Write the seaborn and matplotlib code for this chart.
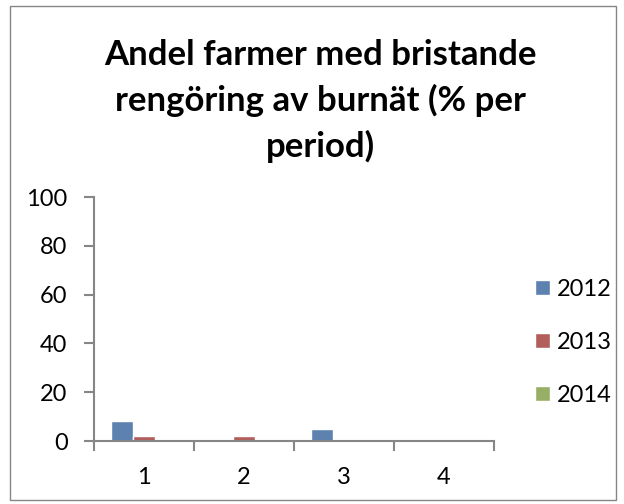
import pandas as pd
import matplotlib.pyplot as plt
import seaborn as sns
from matplotlib.patches import Rectangle

sns.set_theme(style="white")
plt.rcParams["font.family"] = ["Lato", "DejaVu Sans"]
plt.rcParams["text.color"] = "black"
plt.rcParams["xtick.color"] = "black"
plt.rcParams["ytick.color"] = "black"

periods = ["1", "2", "3", "4"]
years = ["2012", "2013", "2014"]
v2012 = [8, 0, 5, 0]
v2013 = [2, 2, 0, 0]
v2014 = [0, 0, 0, 0]

df = pd.DataFrame({
    "period": periods * 3,
    "year": [y for y in years for _ in periods],
    "value": v2012 + v2013 + v2014,
})

fig = plt.figure(figsize=(6.24, 5.04), dpi=100)
ax = fig.add_axes([94 / 624, 1 - 441 / 504, 400 / 624, 244 / 504])
colors = ["#4F81BD", "#C0504D", "#9BBB59"]
sns.barplot(data=df, x="period", y="value", hue="year", palette=colors,
            width=0.66, ax=ax, legend=True)

ax.set_ylim(0, 100)
ax.set_xlim(-0.5, 3.5)
ax.set_yticks(range(0, 101, 20))
ax.set_xticks(range(4), periods)
ax.set_xticks([-0.5, 0.5, 1.5, 2.5, 3.5], minor=True)
ax.tick_params(axis="x", which="major", length=0, labelsize=17, labelcolor="black", pad=19)
ax.tick_params(axis="x", which="minor", length=7, width=1.5, color="#868686", bottom=True)
ax.tick_params(axis="y", length=7, width=1.5, color="#868686", left=True, labelsize=17,
               labelcolor="black", pad=12)
ax.set_xlabel("")
ax.set_ylabel("")
for s in ["top", "right"]:
    ax.spines[s].set_visible(False)
for s in ["left", "bottom"]:
    ax.spines[s].set_color("#868686")
    ax.spines[s].set_linewidth(1.5)

leg = ax.legend(loc="center left", bbox_to_anchor=(1.08, 0.405), frameon=False,
                fontsize=17, handlelength=0.6, handleheight=0.6, borderaxespad=0,
                handletextpad=0.3, labelspacing=1.36)
for t in leg.get_texts():
    t.set_color("black")

fig.text(0.514, 0.80, "Andel farmer med bristande\nrengöring av burnät (% per\nperiod)",
         ha="center", va="center", fontsize=25, fontweight="bold", linespacing=1.48,
         color="black")

fig.patches.append(Rectangle((10 / 624, 4 / 504), 606 / 624, 494 / 504, transform=fig.transFigure,
                             fill=False, edgecolor="#868686", linewidth=1))

fig.savefig("out.png", dpi=100)
